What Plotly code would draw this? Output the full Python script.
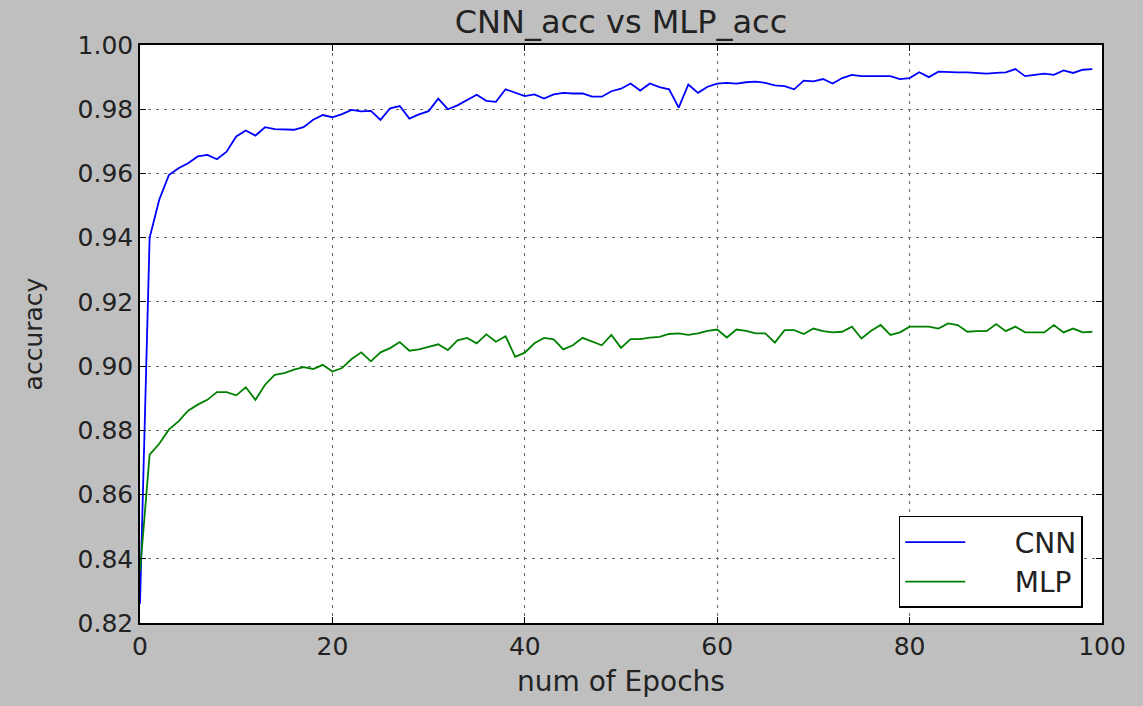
import plotly.graph_objects as go

epochs = list(range(100))

cnn_acc = [
    0.826, 0.940, 0.9518, 0.9595, 0.9616, 0.9632, 0.9653, 0.9658, 0.9644, 0.9668,
    0.9715, 0.9734, 0.9718, 0.9744, 0.9738, 0.9736, 0.9736, 0.9744, 0.9767, 0.9782,
    0.9775, 0.9785, 0.9798, 0.9793, 0.9795, 0.9767, 0.9803, 0.9810, 0.9771, 0.9784,
    0.9794, 0.9833, 0.9800, 0.9812, 0.9829, 0.9845, 0.9826, 0.9823, 0.9862, 0.9851,
    0.9841, 0.9846, 0.9833, 0.9846, 0.9851, 0.9849, 0.9849, 0.9839, 0.9839, 0.9856,
    0.9864, 0.9880, 0.9858, 0.9880, 0.9869, 0.9862, 0.9805, 0.9877, 0.9851, 0.9870,
    0.9880, 0.9882, 0.9880, 0.9884, 0.9886, 0.9882, 0.9874, 0.9872, 0.9862, 0.9889,
    0.9887, 0.9894, 0.9880, 0.9897, 0.9907, 0.9903, 0.9903, 0.9903, 0.9903, 0.9894,
    0.9897, 0.9915, 0.9900, 0.9917, 0.9915, 0.9915, 0.9915, 0.9913, 0.9911, 0.9913,
    0.9915, 0.9925, 0.9903, 0.9907, 0.9911, 0.9907, 0.9921, 0.9913, 0.9923, 0.9925,
]

mlp_acc = [
    0.836, 0.8724, 0.8758, 0.8802, 0.8828, 0.8861, 0.8880, 0.8895, 0.8919, 0.8919,
    0.8909, 0.8934, 0.8895, 0.8942, 0.8973, 0.8978, 0.8989, 0.8997, 0.8991, 0.9004,
    0.8983, 0.8994, 0.9022, 0.9043, 0.9015, 0.9043, 0.9056, 0.9075, 0.9048, 0.9052,
    0.9060, 0.9068, 0.9050, 0.9080, 0.9088, 0.9071, 0.9099, 0.9076, 0.9093, 0.9029,
    0.9042, 0.9071, 0.9088, 0.9083, 0.9052, 0.9065, 0.9088, 0.9076, 0.9065, 0.9097,
    0.9057, 0.9084, 0.9084, 0.9089, 0.9091, 0.9100, 0.9102, 0.9097, 0.9102, 0.9110,
    0.9114, 0.9089, 0.9114, 0.9110, 0.9102, 0.9102, 0.9073, 0.9112, 0.9112, 0.9100,
    0.9117, 0.9109, 0.9105, 0.9107, 0.9123, 0.9086, 0.9110, 0.9128, 0.9097, 0.9105,
    0.9123, 0.9123, 0.9123, 0.9117, 0.9133, 0.9128, 0.9107, 0.9109, 0.9109, 0.9131,
    0.9109, 0.9123, 0.9105, 0.9105, 0.9105, 0.9128, 0.9105, 0.9117, 0.9105, 0.9107,
]

series_names = ["CNN", "MLP"]
x_ticks = [0, 20, 40, 60, 80, 100]
y_ticks = [0.82, 0.84, 0.86, 0.88, 0.90, 0.92, 0.94, 0.96, 0.98, 1.00]

FONT = "DejaVu Sans"
TXT = "#222222"
PAD = "\u00a0" * 5

fig = go.Figure()
fig.add_trace(go.Scatter(x=epochs, y=cnn_acc, mode="lines", name=PAD + series_names[0],
                         line=dict(color="#0000ff", width=1.8)))
fig.add_trace(go.Scatter(x=epochs, y=mlp_acc, mode="lines", name=PAD + series_names[1],
                         line=dict(color="#008000", width=1.8)))

axis_common = dict(
    showline=True, linecolor="black", linewidth=1.5, mirror="ticks",
    ticks="inside", ticklen=6, tickcolor="black", tickwidth=1,
    showgrid=True, gridcolor="#6a6a6a", gridwidth=1, griddash="3px,5px",
    zeroline=False,
    tickfont=dict(family=FONT, size=25, color=TXT),
)

fig.update_layout(
    width=1143, height=706,
    paper_bgcolor="#bfbfbf", plot_bgcolor="white",
    margin=dict(l=140, r=41, t=45, b=83),
    title=dict(text="CNN_acc vs MLP_acc", x=0.5, xref="paper",
               y=1 - 22 / 706, yref="container", yanchor="middle",
               font=dict(family=FONT, size=32, color=TXT)),
    showlegend=True,
    legend=dict(x=0.98, y=0.026, xanchor="right", yanchor="bottom",
                bgcolor="white", bordercolor="black", borderwidth=1.5,
                font=dict(family=FONT, size=28, color=TXT),
                itemwidth=60, tracegroupgap=6),
)

fig.update_xaxes(range=[0, 100], tickvals=x_ticks,
                 ticktext=[str(v) for v in x_ticks],
                 title=dict(text="num of Epochs", standoff=12,
                            font=dict(family=FONT, size=28, color=TXT)),
                 **axis_common)
fig.update_yaxes(range=[0.82, 1.00], tickvals=y_ticks,
                 ticktext=[f"{v:.2f}" for v in y_ticks],
                 title=dict(text="accuracy", standoff=28,
                            font=dict(family=FONT, size=25, color=TXT)),
                 **axis_common)

fig.write_html("out.html",
               config={"displayModeBar": False},
               post_script="document.body.style.margin='0px';document.body.style.overflow='hidden';")
